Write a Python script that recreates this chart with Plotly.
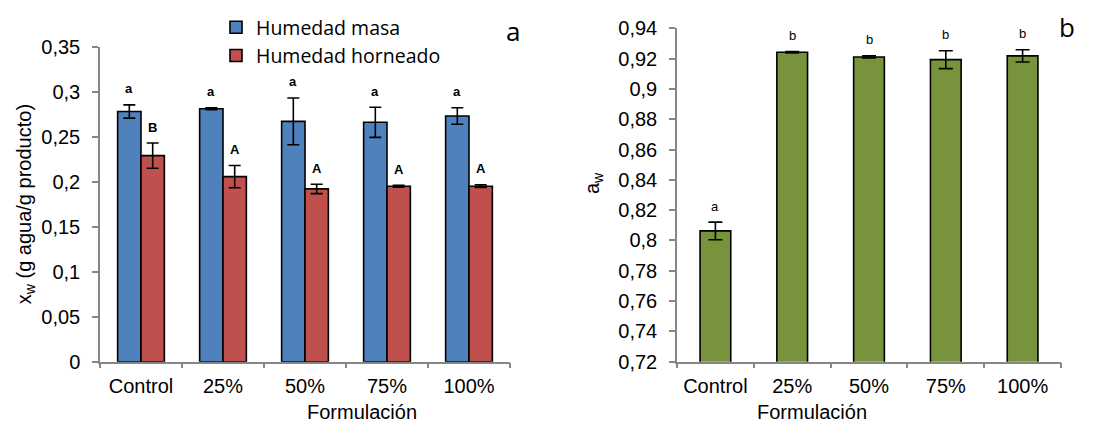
import plotly.graph_objects as go

# ---------------- data ----------------
categories = ["Control", "25%", "50%", "75%", "100%"]

humedad_masa = [0.278, 0.281, 0.267, 0.266, 0.273]
humedad_masa_err = [0.0074, 0.001, 0.026, 0.0167, 0.0092]
humedad_masa_letters = ["a", "a", "a", "a", "a"]

humedad_horneado = [0.229, 0.2056, 0.192, 0.195, 0.195]
humedad_horneado_err = [0.014, 0.0124, 0.0052, 0.001, 0.0015]
humedad_horneado_letters = ["B", "A", "A", "A", "A"]

aw = [0.8063, 0.9242, 0.9211, 0.9193, 0.9218]
aw_err = [0.0058, 0.0005, 0.0007, 0.0059, 0.004]
aw_letters = ["a", "b", "b", "b", "b"]

# ---------------- style ----------------
BLUE = "#4F81BD"
RED = "#C0504D"
GREEN = "#77933C"
AXIS = "#868686"
W, H = 1100, 423
OFF = 8  # page body margin offset


def px(X):
    return (X - OFF) / W


def py(Y):
    return (H - (Y - OFF)) / H


TICKFONT = dict(family="Liberation Sans, Arial, sans-serif", size=20, color="#000000")

xL = [px(100), px(510)]
xR = [px(677), px(1061)]
yL = [py(361.7), py(46.7)]
yR = [py(361.7), py(28.3)]
GAP_L = 0.43
GAP_R = 0.60

fig = go.Figure()

err_style = dict(type="data", color="#000000", thickness=1.6, width=6, visible=True)

fig.add_trace(go.Bar(
    x=categories, y=humedad_masa, name="Humedad masa",
    marker=dict(color=BLUE, line=dict(color="#000000", width=1.6)),
    error_y=dict(array=humedad_masa_err, **err_style),
    xaxis="x", yaxis="y",
))
fig.add_trace(go.Bar(
    x=categories, y=humedad_horneado, name="Humedad horneado",
    marker=dict(color=RED, line=dict(color="#000000", width=1.6)),
    error_y=dict(array=humedad_horneado_err, **err_style),
    xaxis="x", yaxis="y",
))
fig.add_trace(go.Bar(
    x=categories, y=aw, name="aw", showlegend=False,
    marker=dict(color=GREEN, line=dict(color="#000000", width=1.6)),
    error_y=dict(array=aw_err, type="data", color="#000000", thickness=1.6, width=7),
    xaxis="x2", yaxis="y2", width=1 - GAP_R,
))

# significance letters (above error bars)
cat_px_L = (xL[1] - xL[0]) * W / len(categories)
shift_L = cat_px_L * (1 - GAP_L) / 4
letter_font_bold = dict(family="Liberation Sans, Arial, sans-serif", size=13, color="#000000")
ann = []
for c, v, e, t in zip(categories, humedad_masa, humedad_masa_err, humedad_masa_letters):
    ann.append(dict(x=c, y=v + e, xref="x", yref="y", text="<b>%s</b>" % t, showarrow=False,
                    xshift=-shift_L, yshift=16, yanchor="middle", font=letter_font_bold))
for c, v, e, t in zip(categories, humedad_horneado, humedad_horneado_err, humedad_horneado_letters):
    ann.append(dict(x=c, y=v + e, xref="x", yref="y", text="<b>%s</b>" % t, showarrow=False,
                    xshift=shift_L, yshift=16, yanchor="middle", font=letter_font_bold))
for c, v, e, t in zip(categories, aw, aw_err, aw_letters):
    ann.append(dict(x=c, y=v + e, xref="x2", yref="y2", text=t, showarrow=False,
                    yshift=16, yanchor="middle",
                    font=dict(family="Liberation Sans, Arial, sans-serif", size=13, color="#000000")))

# axis titles and panel labels
title_font = dict(family="Liberation Sans, Arial, sans-serif", size=20, color="#000000")
ann += [
    dict(x=(xL[0] + xL[1]) / 2, y=py(412), xref="paper", yref="paper", text="Formulación",
         showarrow=False, yanchor="middle", font=title_font),
    dict(x=(xR[0] + xR[1]) / 2, y=py(412), xref="paper", yref="paper", text="Formulación",
         showarrow=False, yanchor="middle", font=title_font),
    dict(x=px(25), y=(yL[0] + yL[1]) / 2, xref="paper", yref="paper",
         text="x<sub>w</sub> (g agua/g producto)", textangle=-90,
         showarrow=False, xanchor="center", yanchor="middle", font=title_font),
    dict(x=px(593), y=py(183), xref="paper", yref="paper",
         text="a<sub>w</sub>", textangle=-90,
         showarrow=False, xanchor="center", yanchor="middle", font=title_font),
    dict(x=px(513), y=py(31), xref="paper", yref="paper", text="a", showarrow=False,
         xanchor="center", yanchor="middle",
         font=dict(family="Open Sans, sans-serif", size=26, color="#000000")),
    dict(x=px(1067), y=py(27), xref="paper", yref="paper", text="b", showarrow=False,
         xanchor="center", yanchor="middle",
         font=dict(family="Open Sans, sans-serif", size=26, color="#000000")),
]

axis_common = dict(showgrid=False, zeroline=False, showline=True, linecolor=AXIS, linewidth=1.5,
                   ticks="outside", tickcolor=AXIS, tickwidth=1.5, tickfont=TICKFONT,
                   automargin=False)

fig.update_layout(
    template="none",
    width=W, height=H,
    margin=dict(l=0, r=0, t=0, b=0, pad=0, autoexpand=False),
    paper_bgcolor="white", plot_bgcolor="white",
    separators=", ",
    barmode="group", bargap=GAP_L, bargroupgap=0,
    showlegend=True,
    legend=dict(x=px(216), y=py(8), xanchor="left", yanchor="top",
                bgcolor="rgba(0,0,0,0)", borderwidth=0,
                font=dict(family="Open Sans, sans-serif", size=19.5, color="#000000"),
                traceorder="normal", tracegroupgap=0),
    xaxis=dict(domain=xL, anchor="y", type="category", tickson="boundaries", ticklen=5,
               ticklabelstandoff=6, **axis_common),
    yaxis=dict(domain=yL, anchor="x", range=[0, 0.35], dtick=0.05, tick0=0, ticklen=6,
               ticklabelstandoff=8, **axis_common),
    xaxis2=dict(domain=xR, anchor="y2", type="category", tickson="boundaries", ticklen=5,
                ticklabelstandoff=6, **axis_common),
    yaxis2=dict(domain=yR, anchor="x2", range=[0.72, 0.94], dtick=0.02, tick0=0.72, ticklen=6,
                ticklabelstandoff=8, **axis_common),
    annotations=ann,
)

fig.write_html("out.html")
